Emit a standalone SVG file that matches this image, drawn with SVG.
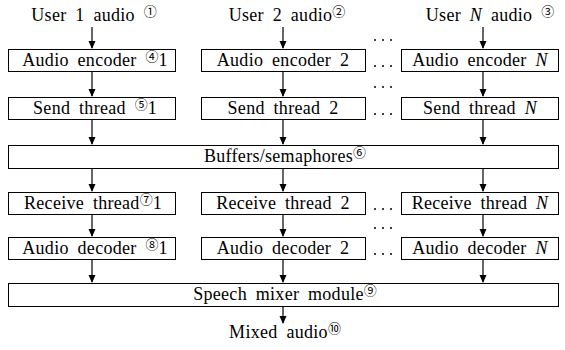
<svg xmlns="http://www.w3.org/2000/svg" width="565" height="350" viewBox="0 0 565 350">
<defs>
<marker id="ah" markerUnits="userSpaceOnUse" markerWidth="8" markerHeight="10" refX="7" refY="3.5" orient="auto">
<path d="M0,0 L8,3.5 L0,7 z" fill="#000"/>
</marker>
<style>
.t{font-family:"Liberation Serif","DejaVu Serif",serif;font-size:18px;fill:#000;text-anchor:middle;letter-spacing:0.3px;word-spacing:4px}
.s{font-size:13px;font-family:"Noto Sans CJK SC","DejaVu Sans",sans-serif;letter-spacing:0}
.i{font-style:italic}
.b{fill:#fff;stroke:#000;stroke-width:1}
.c{stroke:#000;stroke-width:1.2;fill:none;marker-end:url(#ah)}
.d{fill:#000}
</style>
</defs>
<rect width="565" height="350" fill="#fff"/>

<g id="user1"><text class="t" x="94" y="21">User 1 audio <tspan class="s" dy="-5">①</tspan></text></g>
<g id="user2"><text class="t" x="287" y="21">User 2 audio<tspan class="s" dy="-5">②</tspan></text></g>
<g id="userN"><text class="t" x="490" y="21">User <tspan class="i">N</tspan> audio <tspan class="s" dy="-5">③</tspan></text></g>

<g id="enc1"><rect class="b" x="8.5" y="49.5" width="167" height="22"/><text class="t" x="95" y="66">Audio encoder <tspan class="s" dy="-5">④</tspan><tspan dy="5">1</tspan></text></g>
<g id="enc2"><rect class="b" x="201.5" y="49.5" width="164" height="22"/><text class="t" x="283" y="66">Audio encoder 2</text></g>
<g id="encN"><rect class="b" x="401.5" y="49.5" width="157" height="22"/><text class="t" x="480" y="66">Audio encoder <tspan class="i">N</tspan></text></g>

<g id="send1"><rect class="b" x="8.5" y="97.5" width="167" height="22"/><text class="t" x="95" y="114">Send thread <tspan class="s" dy="-5">⑤</tspan><tspan dy="5">1</tspan></text></g>
<g id="send2"><rect class="b" x="201.5" y="97.5" width="164" height="22"/><text class="t" x="283" y="114">Send thread 2</text></g>
<g id="sendN"><rect class="b" x="401.5" y="97.5" width="157" height="22"/><text class="t" x="480" y="114">Send thread <tspan class="i">N</tspan></text></g>

<g id="buffers"><rect class="b" x="8.5" y="145.5" width="550" height="23"/><text class="t" x="285" y="162">Buffers/semaphores<tspan class="s" dy="-5">⑥</tspan></text></g>

<g id="recv1"><rect class="b" x="8.5" y="192.5" width="167" height="22"/><text class="t" x="93" y="209">Receive thread<tspan class="s" dy="-5">⑦</tspan><tspan dy="5">1</tspan></text></g>
<g id="recv2"><rect class="b" x="201.5" y="192.5" width="164" height="22"/><text class="t" x="283" y="209">Receive thread 2</text></g>
<g id="recvN"><rect class="b" x="401.5" y="192.5" width="157" height="22"/><text class="t" x="480" y="209">Receive thread <tspan class="i">N</tspan></text></g>

<g id="dec1"><rect class="b" x="8.5" y="237.5" width="167" height="22"/><text class="t" x="95" y="254">Audio decoder <tspan class="s" dy="-5">⑧</tspan><tspan dy="5">1</tspan></text></g>
<g id="dec2"><rect class="b" x="201.5" y="237.5" width="164" height="22"/><text class="t" x="283" y="254">Audio decoder 2</text></g>
<g id="decN"><rect class="b" x="401.5" y="237.5" width="157" height="22"/><text class="t" x="480" y="254">Audio decoder <tspan class="i">N</tspan></text></g>

<g id="mixer"><rect class="b" x="8.5" y="283.5" width="550" height="23"/><text class="t" x="285" y="300">Speech mixer module<tspan class="s" dy="-5">⑨</tspan></text></g>

<g id="mixed"><text class="t" x="285" y="338">Mixed audio<tspan class="s" dy="-5">⑩</tspan></text></g>

<g id="ellipses">
<circle class="d" cx="375" cy="40" r="1"/><circle class="d" cx="383" cy="40" r="1"/><circle class="d" cx="391" cy="40" r="1"/>
<circle class="d" cx="375" cy="66" r="1"/><circle class="d" cx="383" cy="66" r="1"/><circle class="d" cx="391" cy="66" r="1"/>
<circle class="d" cx="375" cy="87" r="1"/><circle class="d" cx="383" cy="87" r="1"/><circle class="d" cx="391" cy="87" r="1"/>
<circle class="d" cx="375" cy="114" r="1"/><circle class="d" cx="383" cy="114" r="1"/><circle class="d" cx="391" cy="114" r="1"/>
<circle class="d" cx="375" cy="209" r="1"/><circle class="d" cx="383" cy="209" r="1"/><circle class="d" cx="391" cy="209" r="1"/>
<circle class="d" cx="375" cy="228" r="1"/><circle class="d" cx="383" cy="228" r="1"/><circle class="d" cx="391" cy="228" r="1"/>
<circle class="d" cx="375" cy="254" r="1"/><circle class="d" cx="383" cy="254" r="1"/><circle class="d" cx="391" cy="254" r="1"/>
</g>

<g id="connectors">
<line class="c" x1="92" y1="27" x2="92" y2="48"/>
<line class="c" x1="283" y1="27" x2="283" y2="48"/>
<line class="c" x1="483" y1="27" x2="483" y2="48"/>
<line class="c" x1="92" y1="72" x2="92" y2="96"/>
<line class="c" x1="283" y1="72" x2="283" y2="96"/>
<line class="c" x1="483" y1="72" x2="483" y2="96"/>
<line class="c" x1="92" y1="120" x2="92" y2="144"/>
<line class="c" x1="283" y1="120" x2="283" y2="144"/>
<line class="c" x1="483" y1="120" x2="483" y2="144"/>
<line class="c" x1="92" y1="169" x2="92" y2="191"/>
<line class="c" x1="283" y1="169" x2="283" y2="191"/>
<line class="c" x1="483" y1="169" x2="483" y2="191"/>
<line class="c" x1="92" y1="215" x2="92" y2="236"/>
<line class="c" x1="283" y1="215" x2="283" y2="236"/>
<line class="c" x1="483" y1="215" x2="483" y2="236"/>
<line class="c" x1="92" y1="260" x2="92" y2="282"/>
<line class="c" x1="283" y1="260" x2="283" y2="282"/>
<line class="c" x1="483" y1="260" x2="483" y2="282"/>
<line class="c" x1="283" y1="307" x2="283" y2="323"/>
</g>
</svg>
